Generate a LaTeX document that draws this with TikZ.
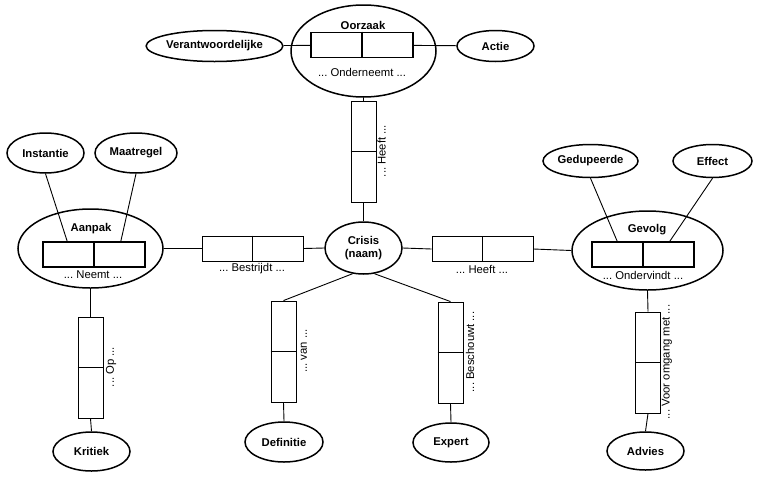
\documentclass[tikz,border=0pt]{standalone}
\usepackage{fontspec}
\setmainfont{Liberation Sans}
\usetikzlibrary{shapes.geometric}
\frenchspacing
\tikzset{
  ent/.style={ellipse, draw, line width=1.5pt, inner sep=0pt, font=\fontsize{11.3}{13}\selectfont\bfseries, align=center},
  bigent/.style={ellipse, draw, line width=1.5pt, inner sep=0pt},
  title/.style={font=\fontsize{11.3}{13}\selectfont\bfseries, inner sep=0pt},
  inbox/.style={rectangle, draw, line width=1.7pt, inner sep=0pt, minimum width=102pt, minimum height=25pt},
  hrel/.style={rectangle, draw, line width=0.9pt, inner sep=0pt, minimum width=101pt, minimum height=25pt},
  vrel/.style={rectangle, draw, line width=0.9pt, inner sep=0pt, minimum width=25pt, minimum height=101pt},
  lbl/.style={font=\fontsize{11.3}{13}\selectfont, inner sep=0pt},
  vlbl/.style={lbl, rotate=90},
  conn/.style={line width=0.9pt},
}
\begin{document}
\begin{tikzpicture}[x=1pt,y=-1pt]
\useasboundingbox (0,0) rectangle (759,477);
% Oorzaak
\node[bigent, minimum width=145pt, minimum height=92pt] (oorz) at (363.5,51) {};
\node[title] (oorzt) at (363,25) {Oorzaak};
\node[inbox] (oorzbox) at (362,45) {};
\draw[line width=1.7pt] (oorzbox.north) -- (oorzbox.south);
\node[lbl] (oorzl) at (362,72) {... Onderneemt ...};
\node[ent, minimum width=125pt, minimum height=31pt] (verant) at (214.5,46) {Verantwoordelijke};
\node[ent, minimum width=77pt, minimum height=31pt] (actie) at (495.5,46) {Actie};
\draw[conn] (verant) -- (oorzbox);
\draw[conn] (oorzbox) -- (actie);
% Heeft (vertical)
\node[vrel] (heeftv) at (363.5,151.5) {};
\draw[conn] (heeftv.west) -- (heeftv.east);
\node[vlbl] (heeftvl) at (381.5,151) {... Heeft ...};
\draw[conn] (oorz.south) -- (heeftv.north);
% Crisis
\node[ent, minimum width=77pt, minimum height=52pt] (crisis) at (363.5,248) {Crisis\\(naam)};
\draw[conn] (heeftv.south) -- (crisis.north);
% Aanpak
\node[bigent, minimum width=145pt, minimum height=79pt] (aanpak) at (90.5,248.5) {};
\node[title] (aanpakt) at (91,229) {Aanpak};
\node[inbox] (aanbox) at (94,254.5) {};
\draw[line width=1.7pt] (aanbox.north) -- (aanbox.south);
\node[lbl] (aanl) at (93,275) {... Neemt ...};
\node[ent, minimum width=77pt, minimum height=40pt] (inst) at (45.5,153) {Instantie};
\node[ent, minimum width=82pt, minimum height=40pt] (maat) at (136,153) {Maatregel};
\draw[conn] (inst.south) -- ([xshift=25pt]aanbox.north west);
\draw[conn] (maat.south) -- ([xshift=-25pt]aanbox.north east);
% Bestrijdt
\node[hrel] (bestr) at (252.5,248.5) {};
\draw[conn] (bestr.north) -- (bestr.south);
\node[lbl] (bestrl) at (252,269) {... Bestrijdt ...};
\draw[conn] (aanpak.east) -- (bestr.west);
\draw[conn] (bestr.east) -- (crisis.west);
% Heeft (horizontal)
\node[hrel] (heefth) at (482.5,249) {};
\draw[conn] (heefth.north) -- (heefth.south);
\node[lbl] (heefthl) at (482,269) {... Heeft ...};
\draw[conn] (crisis.east) -- (heefth.west);
% Gevolg
\node[bigent, minimum width=151pt, minimum height=79pt] (gevolg) at (647.5,250.5) {};
\node[title] (gevolgt) at (647,230) {Gevolg};
\node[inbox] (gevbox) at (643,254.5) {};
\draw[line width=1.7pt] (gevbox.north) -- (gevbox.south);
\node[lbl] (gevl) at (643,275) {... Ondervindt ...};
\draw[conn] (heefth.east) -- (gevolg.west);
\node[ent, minimum width=95pt, minimum height=33pt] (ged) at (590.5,161) {Gedupeerde};
\node[ent, minimum width=79pt, minimum height=33pt] (eff) at (712.5,161) {Effect};
\draw[conn] (ged.south) -- ([xshift=26pt]gevbox.north west);
\draw[conn] (eff.south) -- ([xshift=-25pt]gevbox.north east);
% Op
\node[vrel] (op) at (90.5,367.5) {};
\draw[conn] (op.west) -- (op.east);
\node[vlbl] (opl) at (111,367) {... Op ...};
\draw[conn] (aanpak.south) -- (op.north);
\node[ent, minimum width=77pt, minimum height=39pt] (krit) at (91.5,451.5) {Kritiek};
\draw[conn] (op.south) -- (krit.north);
% van
\node[vrel] (van) at (283.5,351.5) {};
\draw[conn] (van.west) -- (van.east);
\node[vlbl] (vanl) at (304,351) {... van ...};
\draw[conn] (crisis.-113) -- (van.north);
\node[ent, minimum width=78pt, minimum height=40pt] (def) at (284,442) {Definitie};
\draw[conn] (van.south) -- (def.north);
% Beschouwt
\node[vrel] (besch) at (450.5,352.5) {};
\draw[conn] (besch.west) -- (besch.east);
\node[vlbl] (beschl) at (470,352) {... Beschouwt ...};
\draw[conn] (crisis.-67) -- (besch.north);
\node[ent, minimum width=76pt, minimum height=39pt] (exp) at (451,442.5) {Expert};
\draw[conn] (besch.south) -- (exp.north);
% Voor omgang met
\node[vrel] (voor) at (648,362.5) {};
\draw[conn] (voor.west) -- (voor.east);
\node[vlbl] (voorl) at (667,362) {... Voor omgang met ...};
\draw[conn] (gevolg.south) -- (voor.north);
\node[ent, minimum width=77pt, minimum height=38pt] (adv) at (645.5,451) {Advies};
\draw[conn] (voor.south) -- (adv.north);
\end{tikzpicture}
\end{document}
